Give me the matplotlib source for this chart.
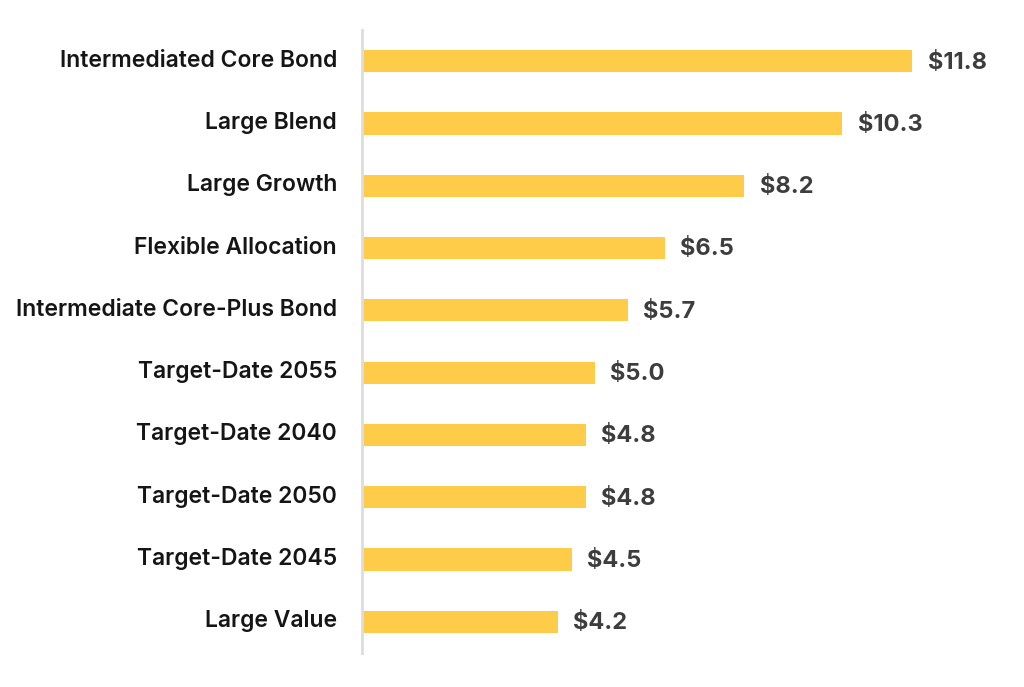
import matplotlib.pyplot as plt
import matplotlib.transforms as mtransforms

categories = ["Intermediated Core Bond", "Large Blend", "Large Growth",
              "Flexible Allocation", "Intermediate Core-Plus Bond",
              "Target-Date 2055", "Target-Date 2040", "Target-Date 2050",
              "Target-Date 2045", "Large Value"]
values = [11.8, 10.3, 8.2, 6.5, 5.7, 5.0, 4.8, 4.8, 4.5, 4.2]
value_labels = ["$11.8", "$10.3", "$8.2", "$6.5", "$5.7",
                "$5.0", "$4.8", "$4.8", "$4.5", "$4.2"]

fig = plt.figure(figsize=(10.24, 6.87), dpi=100)
ax = fig.add_axes([0.3535, 0.0495, 0.633, 0.9068])

y = list(range(len(categories)))
ax.barh(y, values, height=0.355, color="#FFCC4A")

for yi, v, lab in zip(y, values, value_labels):
    ax.annotate(lab, (v, yi), xytext=(11, -1), textcoords="offset points",
                ha="left", va="center", fontsize=17, fontweight="bold",
                color="#3d3d3d", family="Inter")

ax.set_xlim(0, 13.9)
ax.set_ylim(len(categories) - 0.5, -0.5)
ax.set_yticks(y)
ax.set_yticklabels(categories, fontsize=16.5, fontweight="semibold",
                   family="Inter", color="#151515")
ax.tick_params(axis="y", length=0, pad=18)
shift = mtransforms.ScaledTranslation(0, 3 / 100, fig.dpi_scale_trans)
for t in ax.get_yticklabels():
    t.set_transform(t.get_transform() + shift)
ax.set_xticks([])
for s in ["top", "right", "bottom"]:
    ax.spines[s].set_visible(False)
ax.spines["left"].set_color("#dddddd")
ax.spines["left"].set_linewidth(2)

fig.savefig("out.png", dpi=100)
